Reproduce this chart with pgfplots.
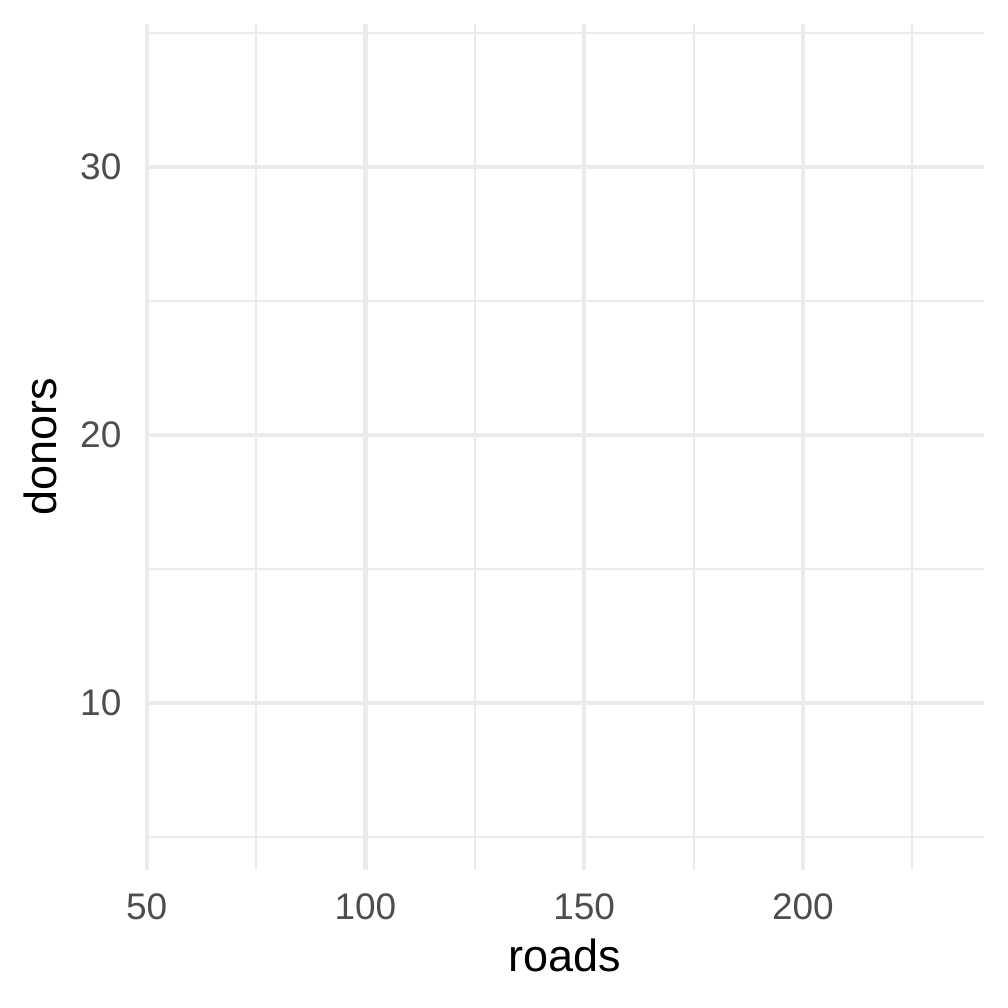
\documentclass[border=0pt]{standalone}
\usepackage{fontspec}
\setmainfont{Liberation Sans}
\usepackage{pgfplots}
\pgfplotsset{compat=1.18}
\definecolor{gridgray}{HTML}{EBEBEB}
\definecolor{ticktext}{HTML}{4D4D4D}

\begin{document}
\begin{tikzpicture}
  % page is 504pt square; the panel sits where ggplot put it
  \path[use as bounding box] (0,0) rectangle (504pt,504pt);
  \begin{axis}[
      at={(72.5pt,69pt)}, anchor=south west,
      scale only axis,
      width=419.5pt, height=423pt,
      xmin=49.6, xmax=241.4,
      ymin=3.77, ymax=35.34,
      xtick={50,100,150,200},
      minor xtick={75,125,175,225},
      ytick={10,20,30},
      minor ytick={5,15,25,35},
      grid=both,
      major grid style={color=gridgray, line width=2.1pt},
      minor grid style={color=gridgray, line width=1pt},
      axis line style={draw=none},
      major tick length=0pt, minor tick length=0pt,
      tick style={draw=none},
      /pgf/number format/assume math mode=true,
      tick label style={font=\fontsize{18.5}{20}\selectfont, text=ticktext, inner sep=0pt},
      xticklabel style={anchor=north, yshift=-11.4pt},
      yticklabel style={anchor=east, xshift=-11.6pt},
      xlabel={roads}, ylabel={donors},
      label style={font=\fontsize{22.5}{26}\selectfont, text=black, inner sep=0pt},
      xlabel style={at={(axis description cs:0.5,0)}, anchor=base, yshift=-50.8pt},
      ylabel style={at={(axis description cs:0,0.5)}, anchor=base, yshift=44pt},
    ]
  \end{axis}
\end{tikzpicture}
\end{document}
